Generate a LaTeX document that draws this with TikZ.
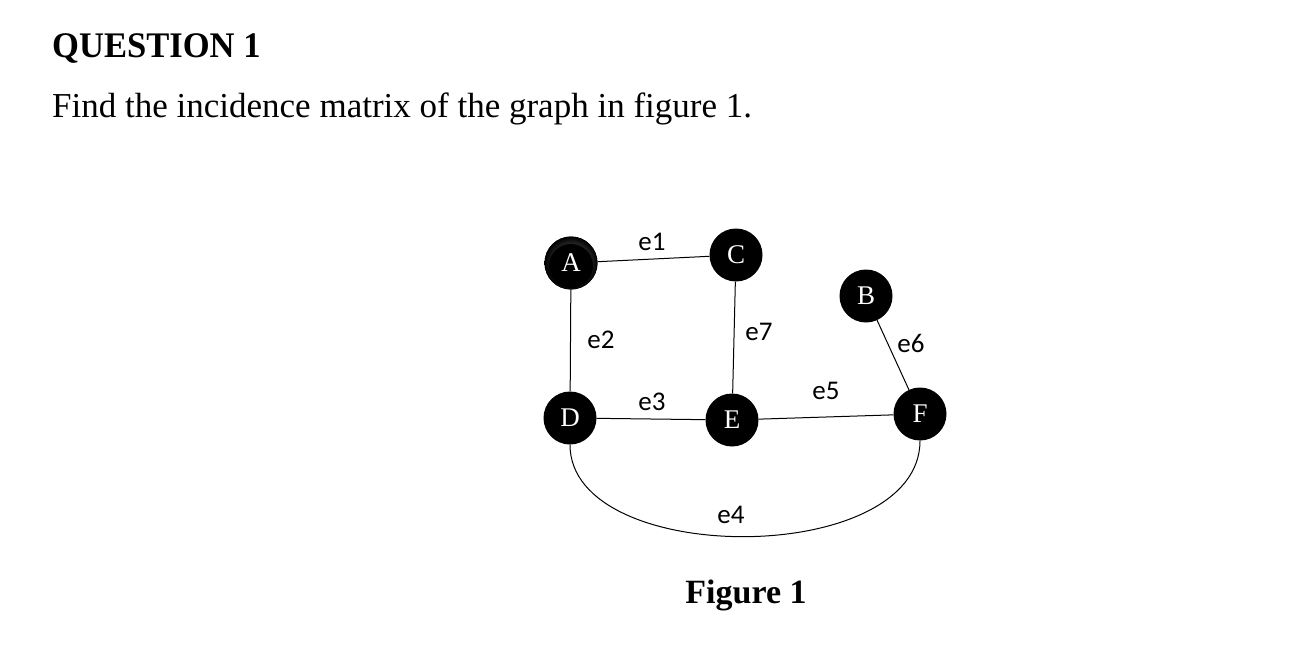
\documentclass[tikz,border=0pt]{standalone}
\usepackage{fontspec}
\setmainfont{Liberation Serif}
\newfontfamily\lblfont{Carlito}
\begin{document}
\begin{tikzpicture}[x=1pt,y=-1pt,
  vtx/.style={circle,fill=black,minimum size=53pt,inner sep=0pt,text=white,font=\fontsize{27}{27}\selectfont},
  elabel/.style={font=\lblfont\fontsize{27}{27}\selectfont,inner sep=0pt},
  edge/.style={draw=black,line width=1pt}]
\useasboundingbox (0,0) rectangle (1303,655);
\node[anchor=base west,inner sep=0pt,xscale=0.96,font=\bfseries\fontsize{36}{36}\selectfont] (title) at (52,58) {QUESTION 1};
\node[anchor=base west,inner sep=0pt,font=\fontsize{35}{35}\selectfont] (q) at (52,118) {Find the incidence matrix of the graph in figure 1.};
\node[vtx,shading=radial,inner color=black!45,outer color=black,
  shading angle=0] (A) at (571,263) {};
\fill[black] (A.center) ++(0,3) circle (22pt);
\node[text=white,font=\fontsize{27}{27}\selectfont,inner sep=0pt] (Alab) at (A.center) {A};
\node[vtx] (C) at (736,255) {C};
\node[vtx] (B) at (866,296) {B};
\node[vtx] (D) at (570,418) {D};
\node[vtx] (E) at (732,420) {E};
\node[vtx] (F) at (920,414) {F};
\draw[edge] (A) -- (C);
\draw[edge] (A) -- (D);
\draw[edge] (C) -- (E);
\draw[edge] (D) -- (E);
\draw[edge] (E) -- (F);
\draw[edge] (B) -- (F);
\draw[edge] (D.south) .. controls (570,568) and (920,568) .. (F.south);
\node[elabel] (l1) at (652,242) {e1};
\node[elabel] (l2) at (601,340) {e2};
\node[elabel] (l7) at (759,332) {e7};
\node[elabel] (l3) at (652,402) {e3};
\node[elabel] (l5) at (826,391) {e5};
\node[elabel] (l6) at (911,343) {e6};
\node[elabel] (l4) at (731,515) {e4};
\node[anchor=base,inner sep=0pt,font=\bfseries\fontsize{34}{34}\selectfont] (fig) at (746,603) {Figure 1};
\end{tikzpicture}
\end{document}
